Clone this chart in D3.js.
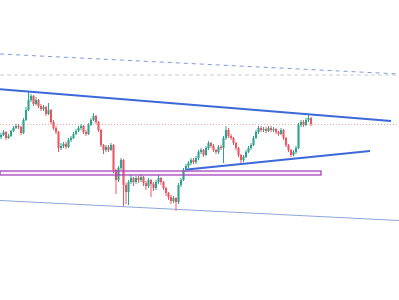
<!DOCTYPE html>
<html>
<head>
<meta charset="utf-8">
<script src="https://cdn.jsdelivr.net/npm/d3@7"></script>
<style>
  body { margin: 0; background: #ffffff; }
  svg { display: block; }
</style>
</head>
<body>
<div id="chart"></div>
<script>
// candle data, one entry per bar; open of each bar is the previous close
var firstOpen = 163;
var closes = [165,168,162,164,169,172,174,173,167,180,
  190,200,204,196,200,194,191,193,186,190,
  178,172,168,152,154,156,153,160,162,166,
  169,172,174,168,166,175,180,184,178,170,
  155,150,153,150,155,130,120,132,140,115,
  108,118,122,118,122,120,123,117,114,120,
  116,112,118,122,118,112,107,103,99,102,
  98,115,120,130,134,137,140,138,142,148,
  150,145,152,157,154,150,148,153,152,162,
  170,164,162,157,152,145,140,143,148,152,
  155,162,168,172,170,171,169,172,170,171,
  168,166,170,162,155,150,145,148,152,175,
  178,175,180,182,176];
var highs = [167,170,169,166,170,174,176,176,174,182,
  193,208,206,205,203,201,196,195,194,197,
  191,180,174,169,157,158,158,162,164,168,
  171,174,176,175,170,177,182,187,185,179,
  171,156,155,155,157,156,131,134,142,141,
  117,120,125,123,124,124,126,124,119,122,
  121,118,120,125,123,119,113,108,105,104,
  103,117,122,132,136,139,142,142,144,150,
  152,151,154,159,158,156,151,155,155,164,
  174,172,166,163,158,153,146,145,150,154,
  157,164,170,174,174,173,173,174,174,173,
  172,169,172,171,163,156,151,150,154,177,
  180,180,182,186,183];
var lows = [161,164,160,161,163,168,171,171,165,166,
  179,189,198,194,195,192,189,189,184,185,
  176,170,166,148,150,152,151,152,158,161,
  165,168,170,166,164,165,174,179,176,168,
  153,146,148,148,149,127,106,118,130,93,
  96,95,116,114,116,117,118,114,110,112,
  103,109,110,116,115,110,104,100,96,97,
  89,96,113,119,128,132,135,136,136,140,
  146,143,144,150,152,148,146,146,150,137,
  160,162,160,155,150,143,137,138,142,147,
  150,154,161,166,168,168,167,168,168,168,
  166,164,165,160,153,148,143,144,146,151,
  173,173,174,178,174];

// drawings: [bar index, price] pairs
var upperTrend = [[-0.4, 210.7], [156, 179]];
var lowerTrend = [[74.4, 130.5], [147.6, 149]];
var channelTop = [[-0.4, 246], [159.2, 226]];
var channelBottom = [[-0.4, 99.5], [159.2, 79.5]];
var levelLine = [[-0.4, 225], [159.2, 225]];
var lastPrice = 175.5;
var zoneBox = { from: -0.4, to: 128, top: 129, bottom: 125 };

var width = 399, height = 300;

var svg = d3.select("#chart").append("svg")
  .attr("width", width)
  .attr("height", height);

var x = d3.scaleLinear().domain([0, closes.length - 1]).range([1, 311]);
var y = d3.scaleLinear().domain([0, 300]).range([height, 0]);

var line = d3.line()
  .x(function(d){ return x(d[0]); })
  .y(function(d){ return y(d[1]); });

// background levels
svg.append("path").datum(levelLine)
  .attr("d", line)
  .attr("fill", "none")
  .attr("stroke", "#c9ced8")
  .attr("stroke-width", 1)
  .attr("stroke-dasharray", "4,3");

svg.append("path").datum(channelTop)
  .attr("d", line)
  .attr("fill", "none")
  .attr("stroke", "#7f9be0")
  .attr("stroke-width", 1)
  .attr("stroke-dasharray", "4,4");

svg.append("line")
  .attr("x1", 0).attr("x2", width)
  .attr("y1", y(lastPrice)).attr("y2", y(lastPrice))
  .attr("stroke", "#f2a6a6")
  .attr("stroke-width", 1)
  .attr("stroke-dasharray", "1,2");

// candles
var bars = closes.map(function(c, i){
  return { i: i, open: i == 0 ? firstOpen : closes[i - 1], close: c, high: highs[i], low: lows[i] };
});

var candle = svg.append("g").selectAll("g")
  .data(bars)
  .enter().append("g");

candle.append("line")
  .attr("x1", function(d){ return x(d.i); })
  .attr("x2", function(d){ return x(d.i); })
  .attr("y1", function(d){ return y(d.high); })
  .attr("y2", function(d){ return y(d.low); })
  .attr("stroke", function(d){ return d.close >= d.open ? "#2ea48e" : "#eb5660"; })
  .attr("stroke-width", 1);

candle.append("rect")
  .attr("x", function(d){ return x(d.i) - 1.05; })
  .attr("width", 2.1)
  .attr("y", function(d){ return y(Math.max(d.open, d.close)); })
  .attr("height", function(d){ return Math.max(1, Math.abs(y(d.open) - y(d.close))); })
  .attr("fill", function(d){ return d.close >= d.open ? "#2ea48e" : "#eb5660"; });

// drawings on top
svg.append("rect")
  .attr("x", x(zoneBox.from))
  .attr("y", y(zoneBox.top))
  .attr("width", x(zoneBox.to) - x(zoneBox.from))
  .attr("height", y(zoneBox.bottom) - y(zoneBox.top))
  .attr("fill", "rgba(156,39,176,0.06)")
  .attr("stroke", "#a846bd")
  .attr("stroke-width", 1.3);

svg.append("path").datum(channelBottom)
  .attr("d", line)
  .attr("fill", "none")
  .attr("stroke", "#8ea6dc")
  .attr("stroke-width", 1);

[upperTrend, lowerTrend].forEach(function(t){
  svg.append("path").datum(t)
    .attr("d", line)
    .attr("fill", "none")
    .attr("stroke", "#3c68d8")
    .attr("stroke-width", 2);
});
</script>
</body>
</html>
